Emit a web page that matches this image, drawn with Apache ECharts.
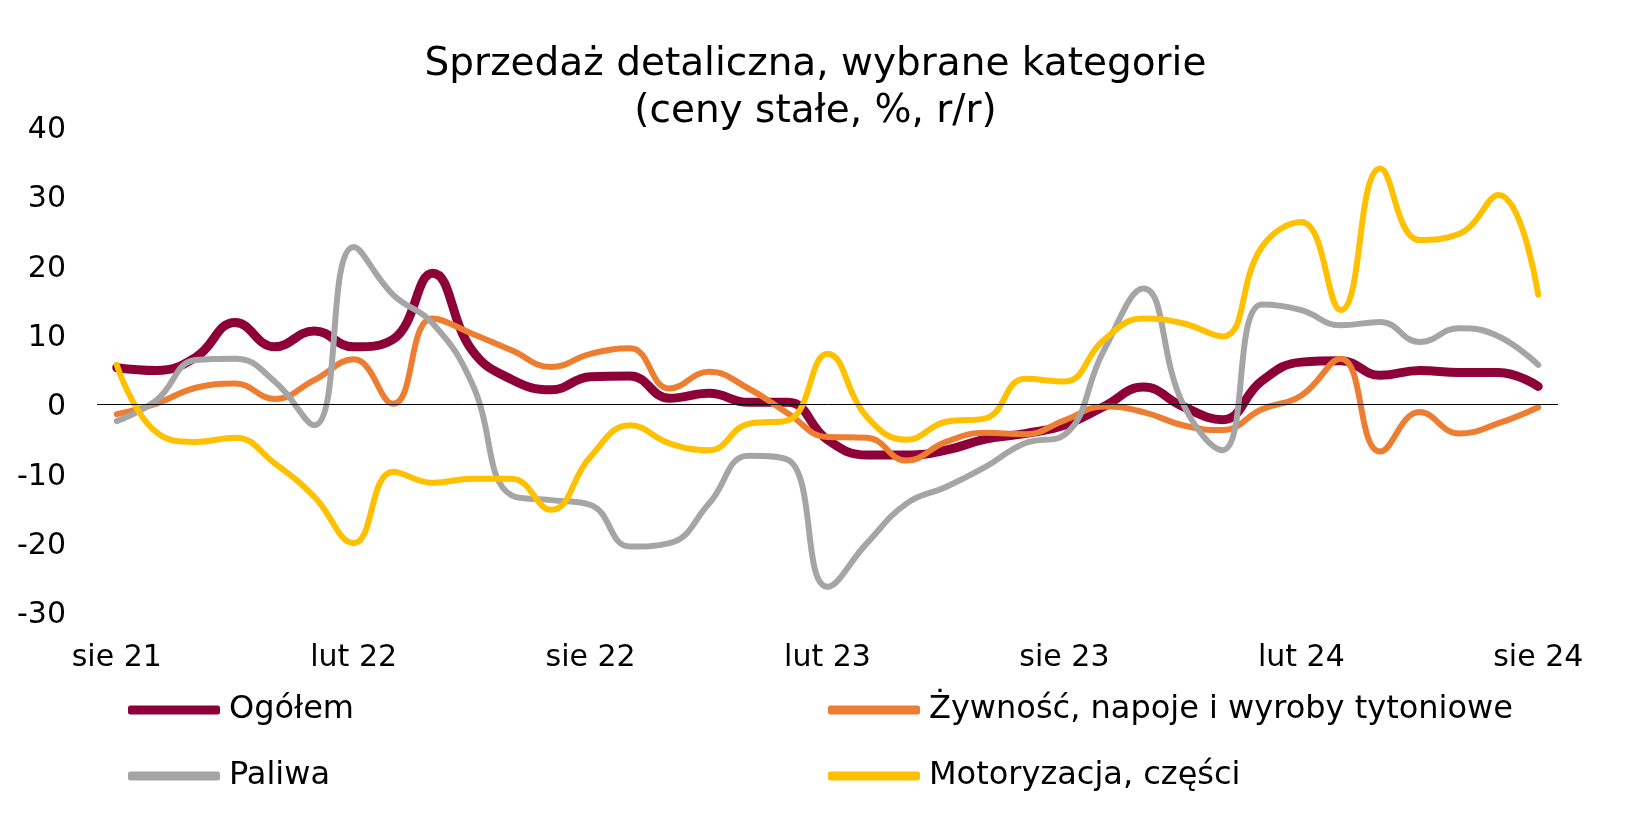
<!DOCTYPE html>
<html>
<head>
<meta charset="utf-8">
<script src="https://cdn.jsdelivr.net/npm/echarts@6/dist/echarts.min.js"></script>
<style>
html,body{margin:0;padding:0;background:#fff;}
#chart{width:1631px;height:829px;}
</style>
</head>
<body>
<div id="chart"></div>
<script>
const categories = ['sie 21','wrz 21','paź 21','lis 21','gru 21','sty 22','lut 22','mar 22','kwi 22','maj 22','cze 22','lip 22',
  'sie 22','wrz 22','paź 22','lis 22','gru 22','sty 23','lut 23','mar 23','kwi 23','maj 23','cze 23','lip 23',
  'sie 23','wrz 23','paź 23','lis 23','gru 23','sty 24','lut 24','mar 24','kwi 24','maj 24','cze 24','lip 24','sie 24'];

const ogolem = [5.3, 4.9, 6.8, 11.8, 8.3, 10.6, 8.3, 9.4, 18.9, 7.8, 3.6, 2.1,
  4.0, 4.1, 0.9, 1.6, 0.3, 0.3, -5.1, -7.3, -7.3, -6.6, -5.0, -4.2,
  -3.0, -0.3, 2.5, -0.3, -2.2, 3.4, 6.1, 6.3, 4.2, 4.9, 4.6, 4.6, 2.6];

const zywnosc = [-1.4, 0.1, 2.4, 3.0, 0.8, 3.5, 6.5, 0.1, 12.4, 10.2, 7.8, 5.4,
  7.3, 8.1, 2.3, 4.7, 2.3, -1.3, -4.7, -4.8, -8.1, -5.4, -4.1, -4.3,
  -2.3, -0.3, -1.1, -3.0, -3.7, -0.7, 1.3, 6.6, -6.8, -1.1, -4.2, -2.7, -0.4];

const paliwa = [-2.4, 0.6, 6.4, 6.6, 3.3, -3.0, 22.7, 15.8, 11.7, 3.0, -13.1, -13.8,
  -14.5, -20.5, -20.0, -14.3, -7.4, -8.0, -26.3, -20.0, -14.3, -11.9, -9.0, -5.6,
  -4.4, 7.8, 16.7, 0.1, -6.6, 14.4, 13.6, 11.4, 11.9, 9.0, 11.0, 9.8, 5.7];

const motoryzacja = [5.7, -4.0, -5.4, -4.8, -8.5, -13.3, -20.0, -9.7, -11.3, -10.7, -10.7, -15.2,
  -7.5, -3.0, -5.6, -6.6, -2.8, -2.3, 7.3, -1.8, -5.1, -2.5, -2.0, 3.7,
  3.3, 9.3, 12.4, 11.7, 9.8, 22.7, 26.3, 13.6, 34.0, 23.7, 24.6, 30.2, 15.8];

const yTicks = {min: -30, max: 40, interval: 10};

const FONT = 'DejaVu Sans';
const chart = echarts.init(document.getElementById('chart'), null, {renderer: 'canvas'});

const legendCommon = {
  orient: 'horizontal', padding: 0, itemWidth: 92, itemHeight: 9, icon: 'roundRect',
  selectedMode: false, textStyle: {fontSize: 32, color: '#000', fontFamily: FONT, padding: [0, 0, 0, 4]}
};

function lineSeries(name, data, color, width, extra) {
  return Object.assign({
    name: name, type: 'line', data: data, smooth: 0.45, symbol: 'none',
    lineStyle: {color: color, width: width, cap: 'round', join: 'round'},
    itemStyle: {color: color}, animation: false
  }, extra || {});
}

chart.setOption({
  animation: false,
  backgroundColor: '#fff',
  title: {
    text: 'Sprzedaż detaliczna, wybrane kategorie\n(ceny stałe, %, r/r)',
    left: 'center', top: 36,
    textStyle: {fontSize: 39, fontWeight: 'normal', color: '#000', fontFamily: FONT, lineHeight: 47}
  },
  grid: {left: 97, right: 73, top: 127, bottom: 216.5, containLabel: false},
  xAxis: {
    type: 'category', data: categories, boundaryGap: true,
    axisLine: {show: false, onZero: false}, axisTick: {show: false},
    axisLabel: {interval: 5, fontSize: 30, color: '#000', fontFamily: FONT, margin: 31},
    splitLine: {show: false}
  },
  yAxis: {
    type: 'value', min: yTicks.min, max: yTicks.max, interval: yTicks.interval,
    axisLine: {show: false}, axisTick: {show: false}, splitLine: {show: false},
    axisLabel: {fontSize: 30, color: '#000', fontFamily: FONT, margin: 31, verticalAlign: 'top', lineHeight: 6}
  },
  legend: [
    Object.assign({data: ['Ogółem'], left: 128, top: 694}, legendCommon),
    Object.assign({data: ['Żywność, napoje i wyroby tytoniowe'], left: 828, top: 694}, legendCommon),
    Object.assign({data: ['Paliwa'], left: 128, top: 760}, legendCommon),
    Object.assign({data: ['Motoryzacja, części'], left: 828, top: 760}, legendCommon)
  ],
  series: [
    lineSeries('Ogółem', ogolem, '#8E0038', 9, {
      markLine: {
        silent: true, symbol: ['none', 'none'], label: {show: false},
        lineStyle: {color: '#000', width: 1, type: 'solid'},
        data: [{yAxis: 0}], animation: false
      }
    }),
    lineSeries('Żywność, napoje i wyroby tytoniowe', zywnosc, '#ED7D31', 6),
    lineSeries('Paliwa', paliwa, '#A5A5A5', 6),
    lineSeries('Motoryzacja, części', motoryzacja, '#FFC000', 6)
  ]
});
</script>
</body>
</html>
